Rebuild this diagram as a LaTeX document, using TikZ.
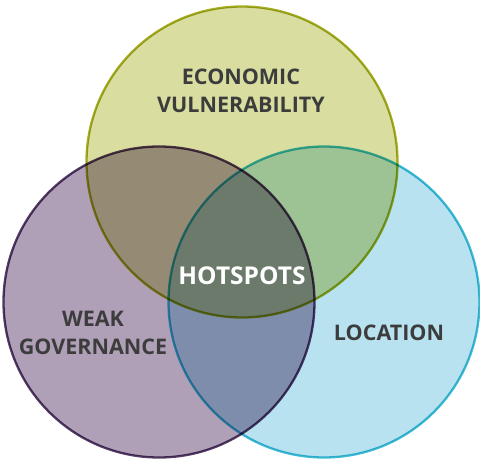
\documentclass[tikz,border=0pt]{standalone}
\usepackage{fontspec}
\setmainfont{Open Sans}
\definecolor{econfill}{RGB}{218,221,160}
\definecolor{econline}{RGB}{168,176,32}
\definecolor{govfill}{RGB}{175,160,184}
\definecolor{govline}{RGB}{88,62,106}
\definecolor{locfill}{RGB}{184,226,239}
\definecolor{locline}{RGB}{62,190,214}
\definecolor{labelgrey}{RGB}{60,60,60}
\tikzset{
  setcircle/.style={circle, inner sep=0pt, minimum size=311pt, line width=2.3pt},
  setlabel/.style={align=center, text=labelgrey, font=\bfseries\fontsize{21.5}{28}\selectfont},
}
\begin{document}
\begin{tikzpicture}[x=1pt,y=-1pt]
\useasboundingbox (0,0) rectangle (480,460);

\begin{scope}[blend group=multiply]
\node[setcircle, fill=econfill, draw=econline] (econ) at (242,162) {};
\node[setcircle, fill=govfill, draw=govline] (gov) at (159,302) {};
\node[setcircle, fill=locfill, draw=locline] (loc) at (324,302) {};
\end{scope}

\node[setlabel] (econlabel) at (241,91) {ECONOMIC\\VULNERABILITY};
\node[setlabel] (govlabel) at (93,333) {WEAK\\GOVERNANCE};
\node[setlabel] (loclabel) at (389,333) {LOCATION};
\node[setlabel, text=white, font=\bfseries\fontsize{24.5}{28}\selectfont] (hot) at (242,276) {HOTSPOTS};
\end{tikzpicture}
\end{document}
